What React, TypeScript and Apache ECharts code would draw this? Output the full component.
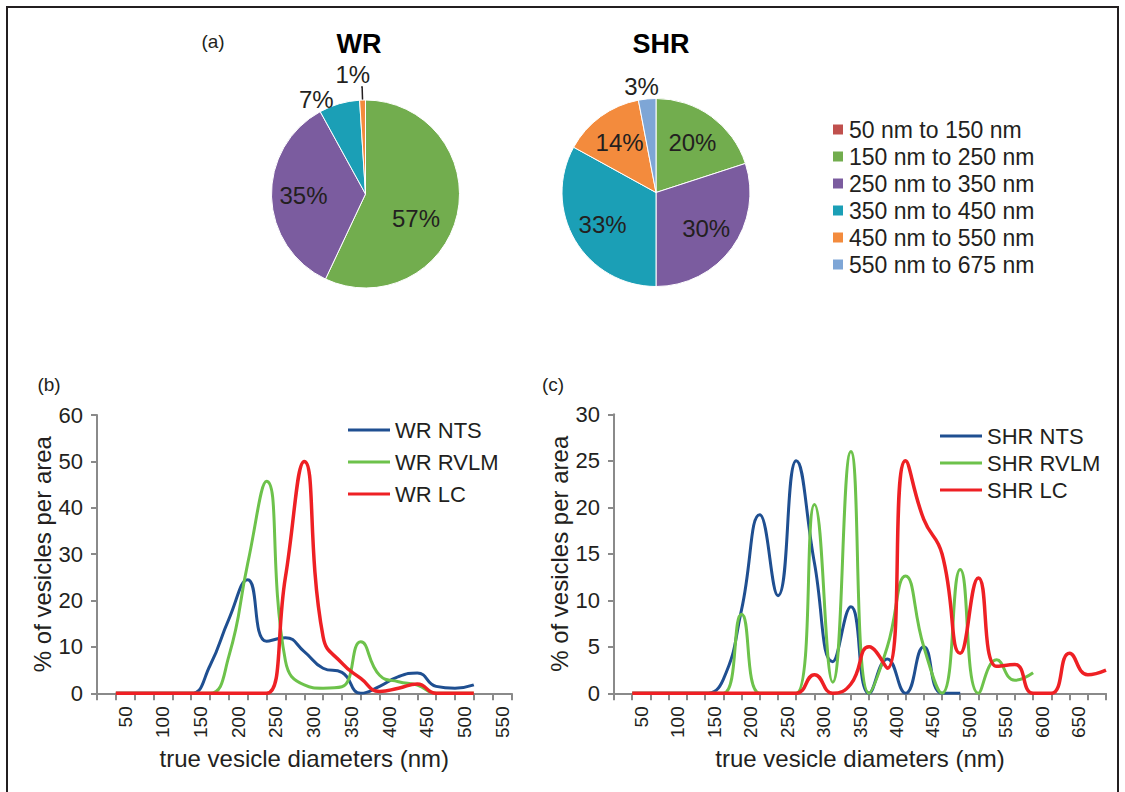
import React, { useEffect, useRef } from "react";
import * as echarts from "echarts";

const FONT = "'Liberation Sans', Arial, sans-serif";
const TEXT = "#231f20";
const AXIS = "#8a8a8a";

// ---- (a) pies ----
const pieCategories = [
  "50 nm to 150 nm",
  "150 nm to 250 nm",
  "250 nm to 350 nm",
  "350 nm to 450 nm",
  "450 nm to 550 nm",
  "550 nm to 675 nm",
];
const pieColors = ["#c0504d", "#72ad4e", "#7b5c9f", "#1b9fb6", "#f38b3d", "#7ea6d6"];
const wrShares = [0, 57, 35, 7, 1, 0];
const shrShares = [0, 20, 30, 33, 14, 3];

// ---- (b) WR curves ----
const bTickLabels = ["50", "100", "150", "200", "250", "300", "350", "400", "450", "500", "550"];
const wrDiameters = [50, 75, 100, 125, 150, 175, 200, 225, 250, 275, 300, 325, 350, 375, 400, 425, 450, 475, 500, 525];
const wrNTS = [0, 0, 0, 0, 0, 6, 16, 24.5, 11.2, 12, 9, 5.4, 4.5, 0, 1.5, 3.6, 4.4, 1.5, 1.1, 1.8];
const wrRVLM = [0, 0, 0, 0, 0, 0, 8, 28, 45.7, 7, 1.8, 1.1, 1.4, 11.1, 3.9, 2.5, 1.8, 0, 0, 0];
const wrLC = [0, 0, 0, 0, 0, 0, 0, 0, 0, 25, 50, 12.2, 6.5, 3.2, 0.4, 1.1, 2, 0, 0, 0];

// ---- (c) SHR curves ----
const cTickLabels = ["50", "100", "150", "200", "250", "300", "350", "400", "450", "500", "550", "600", "650"];
const shrDiameters = [50, 75, 100, 125, 150, 175, 200, 225, 250, 275, 300, 325, 350, 375, 400, 425, 450, 475, 500, 525, 550, 575, 600, 625, 650, 675, 700];
const shrNTS = [0, 0, 0, 0, 0, 1.5, 9, 19.2, 10.5, 25, 14, 3.4, 9.3, 0, 3.7, 0, 5, 0, 0];
const shrRVLM = [0, 0, 0, 0, 0, 0, 8.5, 0, 0, 0, 20.3, 1.2, 26, 0, 5, 12.6, 5, 0, 13.3, 0, 3.6, 1.4, 2.2];
const shrLC = [0, 0, 0, 0, 0, 0, 0, 0, 0, 0, 2, 0, 1, 5, 2.7, 25, 18.7, 15, 4.3, 12.4, 2.9, 3.1, 0, 0, 4.3, 2, 2.5];

const BLUE = "#1f4f91";
const GREEN = "#6dc24b";
const RED = "#ee2024";

function catAxis(gridIndex: number, n: number, labels: string[], name: string) {
  return {
    type: "category",
    gridIndex,
    data: Array.from({ length: n }, (_, i) => String(i)),
    boundaryGap: true,
    axisLine: { show: true, lineStyle: { color: AXIS, width: 2 } },
    axisTick: { show: true, interval: 0, length: 7, lineStyle: { color: AXIS, width: 2 } },
    axisLabel: {
      interval: 0,
      rotate: 90,
      margin: 13,
      fontSize: 19,
      color: TEXT,
      fontFamily: FONT,
      formatter: (_v: string, i: number) => (i % 2 === 1 ? labels[(i - 1) / 2] ?? "" : ""),
    },
    splitLine: { show: false },
    name,
    nameLocation: "middle",
    nameGap: 53,
    nameTextStyle: { fontSize: 24, color: TEXT, fontFamily: FONT },
  };
}

function valAxisX(gridIndex: number, max: number) {
  return { type: "value", gridIndex, min: 25, max, show: false };
}

function yAxis(gridIndex: number, max: number, interval: number) {
  return {
    type: "value",
    gridIndex,
    min: 0,
    max,
    interval,
    axisLine: { show: true, lineStyle: { color: AXIS, width: 2 } },
    axisTick: { show: true, length: 6, lineStyle: { color: AXIS, width: 2 } },
    axisLabel: { fontSize: 22, color: TEXT, fontFamily: FONT, margin: 14 },
    splitLine: { show: false },
    name: "% of vesicles per area",
    nameLocation: "middle",
    nameGap: 42,
    nameTextStyle: { fontSize: 24, color: TEXT, fontFamily: FONT },
  };
}

function line(name: string, xs: number[], ys: number[], color: string, xAxisIndex: number, yAxisIndex: number, width: number) {
  return {
    type: "line",
    name,
    xAxisIndex,
    yAxisIndex,
    data: ys.map((y, i) => [xs[i], y]),
    smooth: true,
    symbol: "none",
    lineStyle: { color, width },
    itemStyle: { color },
    emphasis: { disabled: true },
  };
}

type Shift = Record<number, { dx: number; dy: number }>;

function pieVisible(name: string, values: number[], center: number[], outside: Record<number, boolean>, shift: Shift) {
  return {
    type: "pie",
    name,
    center,
    radius: 94,
    startAngle: 90,
    clockwise: true,
    avoidLabelOverlap: false,
    itemStyle: { borderColor: "#fff", borderWidth: 1 },
    emphasis: { disabled: true },
    labelLayout: (p: any) => shift[p.dataIndex] ?? {},
    data: pieCategories.map((c, i) => ({
      name: c,
      value: values[i],
      itemStyle: { color: pieColors[i] },
      label: {
        show: i in outside,
        position: "outside",
        formatter: "{c}%",
        fontSize: 24,
        color: TEXT,
        fontFamily: FONT,
      },
      labelLine: {
        show: !!outside[i],
        length: 13,
        length2: 1,
        lineStyle: { color: TEXT, width: 1.5 },
      },
    })),
  };
}

function pieLabels(name: string, values: number[], center: number[], outside: Record<number, boolean>, shift: Shift) {
  return {
    type: "pie",
    name,
    center,
    radius: 118,
    startAngle: 90,
    clockwise: true,
    silent: true,
    avoidLabelOverlap: false,
    legendHoverLink: false,
    itemStyle: { color: "rgba(0,0,0,0)", borderWidth: 0 },
    emphasis: { disabled: true },
    labelLayout: (p: any) => shift[p.dataIndex] ?? {},
    data: pieCategories.map((c, i) => ({
      name: c,
      value: values[i],
      itemStyle: { color: "rgba(0,0,0,0)" },
      label: {
        show: values[i] > 0 && !(i in outside),
        position: "inside",
        formatter: "{c}%",
        fontSize: 24,
        color: TEXT,
        fontFamily: FONT,
      },
      labelLine: { show: false },
    })),
  };
}

const wrOutside: Record<number, boolean> = { 3: false, 4: true };
const shrOutside: Record<number, boolean> = { 5: false };

const option = {
  animation: false,
  backgroundColor: "#ffffff",
  textStyle: { fontFamily: FONT },
  graphic: [
    {
      type: "rect",
      silent: true,
      shape: { x: 7, y: 7, width: 1111, height: 800 },
      style: { fill: "none", stroke: TEXT, lineWidth: 2 },
    },
    { type: "text", x: 213, y: 41, style: { text: "(a)", fontSize: 19, fontFamily: FONT, fill: TEXT, align: "center", verticalAlign: "middle" } },
    { type: "text", x: 359, y: 44, style: { text: "WR", fontSize: 27, fontWeight: "bold", fontFamily: FONT, fill: "#000", align: "center", verticalAlign: "middle" } },
    { type: "text", x: 661, y: 44, style: { text: "SHR", fontSize: 27, fontWeight: "bold", fontFamily: FONT, fill: "#000", align: "center", verticalAlign: "middle" } },
    { type: "text", x: 49, y: 384, style: { text: "(b)", fontSize: 19, fontFamily: FONT, fill: TEXT, align: "center", verticalAlign: "middle" } },
    { type: "text", x: 553, y: 384, style: { text: "(c)", fontSize: 19, fontFamily: FONT, fill: TEXT, align: "center", verticalAlign: "middle" } },
  ],
  legend: [
    {
      data: pieCategories,
      orient: "vertical",
      left: 831,
      top: 118,
      padding: 0,
      icon: "rect",
      itemWidth: 12,
      itemHeight: 12,
      itemGap: 4,
      selectedMode: false,
      textStyle: { fontSize: 23, color: TEXT, fontFamily: FONT },
    },
    {
      data: ["WR NTS", "WR RVLM", "WR LC"],
      orient: "vertical",
      left: 348,
      top: 419,
      padding: 0,
      icon: "rect",
      itemWidth: 42,
      itemHeight: 3,
      itemGap: 10,
      selectedMode: false,
      textStyle: { fontSize: 22, color: TEXT, fontFamily: FONT },
    },
    {
      data: ["SHR NTS", "SHR RVLM", "SHR LC"],
      orient: "vertical",
      left: 940,
      top: 425,
      padding: 0,
      icon: "rect",
      itemWidth: 42,
      itemHeight: 3,
      itemGap: 5,
      selectedMode: false,
      textStyle: { fontSize: 22, color: TEXT, fontFamily: FONT },
    },
  ],
  grid: [
    { left: 97, top: 415, width: 414.5, height: 278.3 },
    { left: 614, top: 414.3, width: 492, height: 279 },
  ],
  xAxis: [
    catAxis(0, 22, bTickLabels, "true vesicle diameters (nm)"),
    valAxisX(0, 575),
    catAxis(1, 27, cTickLabels, "true vesicle diameters (nm)"),
    valAxisX(1, 700),
  ],
  yAxis: [yAxis(0, 60, 10), yAxis(1, 30, 5)],
  series: [
    pieVisible("WR", wrShares, [365.5, 194], wrOutside, { 3: { dx: 4, dy: 8 }, 4: { dx: 14, dy: -13 } }),
    pieVisible("SHR", shrShares, [656, 192.5], shrOutside, { 5: { dx: 19, dy: 1 } }),
    pieLabels("WR labels", wrShares, [365.5, 194], wrOutside, { 1: { dx: -10, dy: 11 } }),
    pieLabels("SHR labels", shrShares, [656, 192.5], shrOutside, {}),
    line("WR NTS", wrDiameters, wrNTS, BLUE, 1, 0, 3),
    line("WR RVLM", wrDiameters, wrRVLM, GREEN, 1, 0, 3),
    line("WR LC", wrDiameters, wrLC, RED, 1, 0, 3.5),
    line("SHR NTS", shrDiameters, shrNTS, BLUE, 3, 1, 3),
    line("SHR RVLM", shrDiameters, shrRVLM, GREEN, 3, 1, 3),
    line("SHR LC", shrDiameters, shrLC, RED, 3, 1, 3.5),
  ],
};

export default function App() {
  const ref = useRef<HTMLDivElement>(null);
  useEffect(() => {
    if (!ref.current) return;
    const chart = echarts.init(ref.current, null, { renderer: "svg" });
    chart.setOption(option as any);
    return () => chart.dispose();
  }, []);
  return (
    <div
      ref={ref}
      style={{ position: "fixed", left: 0, top: 0, width: 1125, height: 792, background: "#fff" }}
    />
  );
}
